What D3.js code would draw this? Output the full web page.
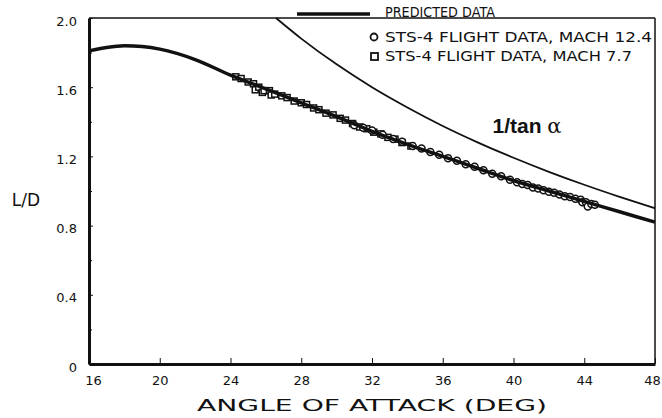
<!DOCTYPE html>
<html><head><meta charset="utf-8">
<script src="https://cdn.jsdelivr.net/npm/d3@7"></script>
<style>
body{margin:0;background:#fff;}
svg{display:block;}
text{font-family:"DejaVu Sans","Liberation Sans",sans-serif;fill:#111;}
</style></head><body>
<svg id="c" width="662" height="418"></svg>
<script>
// ---- data ----
const xTicks = [16,20,24,28,32,36,40,44,48];
const yTicks = [0,0.4,0.8,1.2,1.6,2.0];
const yTickLabels = ["0","0.4","0.8","1.2","1.6","2.0"];
const yMinorTicks = [0.2,0.6,1.0,1.4,1.8];

const predAlpha = [16,17,18,19,20,22,24,26,28,30,32,34,36,38,40,42,44,46,48];
const predLD    = [1.81,1.83,1.84,1.835,1.82,1.76,1.67,1.59,1.51,1.43,1.345,1.27,1.20,1.13,1.06,1.00,0.94,0.88,0.82];

const tanAlpha = [26.57,28,30,32,34,36,38,40,42,44,46,48];
const tanLD    = [2.0,1.881,1.732,1.600,1.483,1.376,1.280,1.192,1.111,1.036,0.966,0.900];

const m77Alpha = [24.3,24.6,25.0,25.3,25.4,25.6,25.8,25.9,26.2,26.3,26.5,26.9,27.2,27.6,28.0,28.3,28.7,29.0,29.4,29.8,30.2,30.5,30.9,31.3,31.7,32.1,32.5,32.9,33.3,33.7,34.2];
const m77LD    = [1.66,1.65,1.63,1.62,1.585,1.60,1.57,1.58,1.58,1.555,1.56,1.55,1.54,1.52,1.51,1.50,1.48,1.47,1.45,1.44,1.42,1.41,1.39,1.37,1.36,1.34,1.33,1.31,1.30,1.28,1.26];

const m124Alpha = [31.0,31.5,32.0,32.6,33.2,33.7,34.3,34.8,35.3,35.8,36.3,36.8,37.3,37.8,38.3,38.8,39.3,39.8,40.2,40.5,40.8,41.1,41.4,41.7,42.0,42.3,42.6,42.9,43.2,43.5,43.8,43.9,44.1,44.2,44.4,44.6];
const m124LD    = [1.38,1.365,1.35,1.325,1.30,1.285,1.26,1.245,1.225,1.21,1.19,1.175,1.155,1.14,1.12,1.10,1.085,1.065,1.05,1.04,1.035,1.02,1.015,1.005,0.995,0.99,0.98,0.97,0.965,0.955,0.95,0.935,0.935,0.91,0.925,0.92];

const legendLabels = ["PREDICTED DATA","STS-4 FLIGHT DATA, MACH 12.4","STS-4 FLIGHT DATA, MACH 7.7"];

// ---- chart ----
const svg = d3.select("#c");
const x = d3.scaleLinear().domain([16,48]).range([89,655]);
const y = d3.scaleLinear().domain([0,2]).range([364,18]);

// frame
svg.append("line").attr("x1",x(16)).attr("x2",x(48)).attr("y1",y(2)).attr("y2",y(2)).attr("stroke","#111").attr("stroke-width",1.5);
svg.append("line").attr("x1",x(48)).attr("x2",x(48)).attr("y1",y(2)).attr("y2",y(0)).attr("stroke","#111").attr("stroke-width",1.5);

// x axis
const xAxis = d3.axisBottom(x).tickValues(xTicks).tickSizeInner(-6).tickSizeOuter(0).tickPadding(12).tickFormat(d3.format("d"));
const gx = svg.append("g").attr("transform",`translate(0,${y(0)})`).call(xAxis);
gx.select(".domain").attr("stroke","#111").attr("stroke-width",3);
gx.selectAll(".tick line").attr("stroke","#111").attr("stroke-width",1);
gx.selectAll(".tick text").attr("font-size",13).attr("fill","#111").style("font-family","DejaVu Sans")
  .attr("dx",(d,i)=> i===0 ? 4 : (d===48 ? -3 : 0));

// y axis
const yAxis = d3.axisLeft(y).tickValues(yTicks).tickSizeInner(-4).tickSizeOuter(0).tickPadding(12)
  .tickFormat((d,i)=>yTickLabels[i]);
const gy = svg.append("g").attr("transform",`translate(${x(16)},0)`).call(yAxis);
gy.select(".domain").attr("stroke","#111").attr("stroke-width",3);
gy.selectAll(".tick line").attr("stroke","#111").attr("stroke-width",1);
gy.selectAll(".tick text").attr("font-size",13).attr("fill","#111").attr("dy","0.55em").style("font-family","DejaVu Sans");
const yMinor = d3.axisLeft(y).tickValues(yMinorTicks).tickSizeInner(-3).tickSizeOuter(0).tickFormat("");
const gym = svg.append("g").attr("transform",`translate(${x(16)},0)`).call(yMinor);
gym.select(".domain").remove();
gym.selectAll(".tick line").attr("stroke","#111");

// 1/tan line
const line = d3.line().x(d=>x(d[0])).y(d=>y(d[1])).curve(d3.curveMonotoneX);
svg.append("path").datum(tanAlpha.map((a,i)=>[a,tanLD[i]]))
  .attr("d",line).attr("fill","none").attr("stroke","#111").attr("stroke-width",1.8);

// markers
svg.append("g").selectAll("rect").data(m77Alpha.map((a,i)=>[a,m77LD[i]])).join("rect")
  .attr("x",d=>x(d[0])-3).attr("y",d=>y(d[1])-3).attr("width",6).attr("height",6)
  .attr("fill","#fff").attr("stroke","#111").attr("stroke-width",1.5);
svg.append("g").selectAll("circle").data(m124Alpha.map((a,i)=>[a,m124LD[i]])).join("circle")
  .attr("cx",d=>x(d[0])).attr("cy",d=>y(d[1])).attr("r",3.5)
  .attr("fill","#fff").attr("stroke","#111").attr("stroke-width",1.5);

// predicted
svg.append("path").datum(predAlpha.map((a,i)=>[a,predLD[i]]))
  .attr("d",line).attr("fill","none").attr("stroke","#111").attr("stroke-width",3.5);

// labels
svg.append("text").attr("x",527).attr("y",133).attr("text-anchor","middle").attr("font-size",21).attr("font-weight","bold")
  .style("font-family","Liberation Sans").text("1/tan ").append("tspan").attr("font-weight","normal").style("font-family","DejaVu Serif").text("α");
svg.append("text").attr("x",26).attr("y",206).attr("text-anchor","middle").attr("font-size",17).text("L/D");
svg.append("text").attr("x",372).attr("y",411).attr("text-anchor","middle").attr("font-size",16.5)
  .attr("textLength",350).attr("lengthAdjust","spacingAndGlyphs").text("ANGLE OF ATTACK (DEG)");

// legend
svg.append("line").attr("x1",297).attr("x2",370).attr("y1",14).attr("y2",14).attr("stroke","#111").attr("stroke-width",3.5);
svg.append("text").attr("x",385).attr("y",17).attr("font-size",13.5).attr("textLength",110).attr("lengthAdjust","spacingAndGlyphs").text(legendLabels[0]);
svg.append("circle").attr("cx",374).attr("cy",37).attr("r",3.5).attr("fill","#fff").attr("stroke","#111").attr("stroke-width",1.8);
svg.append("text").attr("x",385).attr("y",42).attr("font-size",13.5).attr("textLength",267).attr("lengthAdjust","spacingAndGlyphs").text(legendLabels[1]);
svg.append("rect").attr("x",371).attr("y",53).attr("width",7).attr("height",7).attr("fill","#fff").attr("stroke","#111").attr("stroke-width",1.8);
svg.append("text").attr("x",385).attr("y",61).attr("font-size",13.5).attr("textLength",247).attr("lengthAdjust","spacingAndGlyphs").text(legendLabels[2]);
</script>
</body></html>
